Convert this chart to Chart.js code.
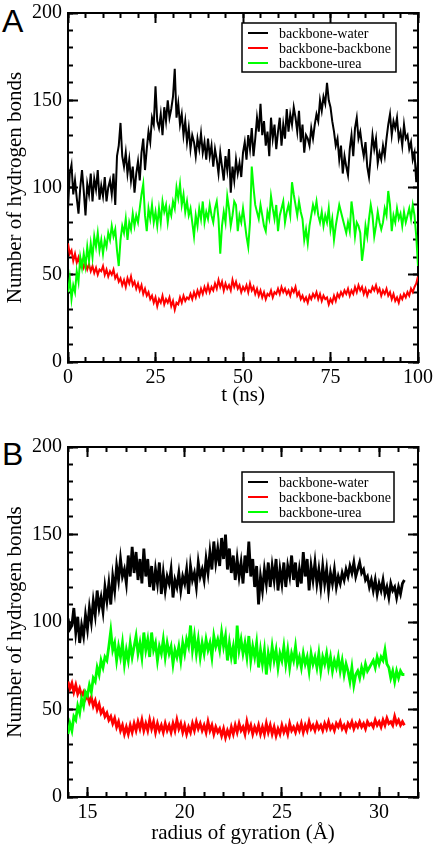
<!DOCTYPE html>
<html lang="en">
<head>
<meta charset="UTF-8">
<title>Hydrogen bonds</title>
<script src="https://cdn.jsdelivr.net/npm/chart.js"></script>
<style>
  body { margin: 0; background: #fff; width: 435px; height: 846px; position: relative; overflow: hidden; }
  canvas { position: absolute; left: 0; }
  #chartA { top: 0; }
  #chartB { top: 420px; }
  /* panel letters */
  .panel { position: absolute; left: 2px; font-family: "Liberation Sans", Arial, sans-serif; font-size: 32px; line-height: 1; }
</style>
</head>
<body>
<div class="panel" style="top:5px">A</div>
<div class="panel" style="top:438px">B</div>
<canvas id="chartA" width="435" height="420"></canvas>
<canvas id="chartB" width="435" height="426"></canvas>

<script>
// ---- data: panel A, sampled every 0.5 ns from 0 to 100 ns ----
const tStart = 0, tStep = 0.5;
const waterA = [
  88, 108, 113, 96, 104, 94, 85, 100, 110, 98,
  84, 102, 96, 108, 92, 105, 99, 110, 93, 101,
  95, 106, 92, 100, 104, 96, 108, 90, 118, 124,
  137, 118, 112, 120, 108, 116, 104, 112, 97, 108,
  115, 104, 120, 128, 110, 122, 132, 126, 140, 136,
  158, 138, 134, 142, 130, 146, 138, 150, 140, 145,
  152, 168, 140, 148, 136, 142, 130, 138, 126, 134,
  122, 130, 126, 118, 128, 122, 131, 120, 126, 116,
  128, 118, 124, 112, 122, 116, 108, 120, 112, 104,
  118, 110, 122, 97, 112, 104, 116, 108, 114, 106,
  120, 126, 116, 130, 122, 134, 118, 128, 140, 132,
  148, 130, 138, 124, 132, 118, 140, 128, 136, 122,
  132, 140, 124, 136, 128, 145, 132, 142, 136, 146,
  140, 132, 144, 126, 136, 120, 130, 128, 124, 134,
  128, 136, 142, 138, 150, 144, 152, 148, 160, 150,
  146, 138, 132, 124, 128, 116, 124, 108, 118, 112,
  107, 122, 130, 118, 134, 140, 128, 132, 124, 118,
  126, 112, 106, 118, 130, 122, 128, 114, 120, 116,
  124, 118, 128, 136, 142, 130, 138, 134, 140, 128,
  132, 124, 136, 128, 130, 122, 126, 116, 120, 103,
  115
];
const backboneA = [
  68, 62, 64, 58, 62, 57, 60, 55, 58, 54,
  57, 53, 56, 52, 55, 51, 54, 50, 53, 52,
  55, 50, 53, 49, 52, 50, 53, 48, 50, 46,
  48, 44, 47, 43, 48, 45, 49, 44, 46, 42,
  45, 41, 44, 39, 42, 38, 40, 36, 38, 34,
  37, 32, 36, 34, 38, 33, 36, 34, 37, 32,
  35, 30, 34, 33, 37, 34, 38, 35, 37, 36,
  39, 36, 40, 37, 41, 38, 42, 39, 43, 40,
  44, 40, 43, 41, 45, 42, 47, 43, 46, 41,
  45, 42, 44, 41, 47, 43, 46, 42, 44, 40,
  43, 41, 44, 40, 45, 41, 43, 39, 42, 38,
  41, 37, 40, 36, 39, 38, 41, 37, 40, 39,
  42, 39, 43, 40, 42, 39, 41, 38, 42, 40,
  43, 38, 40, 36, 38, 35, 37, 34, 38, 36,
  39, 37, 40, 36, 39, 35, 38, 36, 37, 33,
  36, 34, 38, 35, 39, 37, 40, 38, 41, 39,
  42, 38, 41, 39, 43, 40, 44, 41, 43, 39,
  42, 38, 41, 40, 43, 41, 44, 40, 42, 38,
  41, 39, 42, 38, 40, 36, 39, 35, 37, 34,
  38, 36, 39, 37, 40, 38, 42, 40, 43, 45,
  49
];
const ureaA = [
  40, 48, 36, 44, 40, 52, 46, 60, 54, 62,
  55, 66, 58, 68, 60, 72, 66, 74, 64, 70,
  62, 70, 66, 74, 70, 78, 72, 76, 64, 55,
  70, 78, 74, 82, 70, 80, 76, 85, 78, 84,
  80, 88, 96, 102, 84, 75, 88, 82, 90, 80,
  86, 78, 88, 80, 92, 86, 90, 80, 88, 84,
  92, 88, 100, 94, 102, 90, 96, 86, 92, 84,
  88, 80, 72, 84, 78, 88, 82, 92, 80, 86,
  82, 90, 84, 80, 88, 92, 82, 62, 78, 86,
  80, 95, 88, 78, 84, 92, 90, 75, 84, 80,
  88, 80, 72, 66, 80, 112, 100, 90, 86, 82,
  90, 84, 78, 75, 86, 82, 95, 88, 82, 90,
  75, 84, 88, 92, 80, 86, 90, 84, 103, 96,
  90, 84, 92, 86, 82, 70, 76, 68, 78, 84,
  90, 86, 92, 84, 80, 86, 78, 84, 80, 88,
  76, 82, 70, 78, 84, 90, 86, 82, 78, 74,
  80, 75, 92, 84, 72, 80, 78, 74, 58, 66,
  78, 72, 82, 90, 84, 72, 78, 86, 80, 76,
  80, 88, 84, 98, 90, 75, 84, 80, 88, 82,
  85, 78, 86, 80, 84, 88, 82, 90, 84, 72,
  55
];

// ---- data: panel B, binned every 0.1 A of radius of gyration from 14.0 A ----
const rgStart = 14.0, rgStep = 0.1;
const waterB = [
  102, 96, 98, 108, 94, 103, 88, 98, 92, 104,
  96, 108, 100, 112, 104, 118, 108, 114, 106, 120,
  112, 122, 110, 126, 118, 132, 124, 136, 126, 130,
  122, 138, 126, 143, 128, 140, 124, 136, 122, 142,
  126, 136, 120, 132, 118, 130, 122, 134, 116, 128,
  118, 126, 122, 130, 114, 124, 120, 128, 118, 126,
  122, 130, 116, 132, 124, 128, 120, 134, 126, 130,
  124, 136, 128, 140, 130, 146, 134, 142, 132, 148,
  136, 150, 130, 142, 128, 138, 124, 136, 126, 134,
  122, 138, 128, 146, 126, 136, 120, 132, 110, 126,
  118, 130, 122, 134, 120, 132, 124, 136, 118, 130,
  122, 134, 120, 132, 126, 138, 124, 134, 120, 130,
  122, 140, 126, 136, 118, 132, 124, 134, 122, 130,
  120, 132, 122, 130, 118, 128, 122, 130, 120, 126,
  122, 128, 124, 130, 126, 132, 128, 134, 126, 130,
  134, 128, 130, 124, 126, 120, 124, 118, 124, 116,
  122, 118, 124, 116, 120, 114, 122, 118, 120, 114,
  120, 116, 122, 124
];
const backboneB = [
  66, 62, 65, 60, 64, 59, 62, 58, 60, 56,
  58, 54, 57, 52, 55, 50, 53, 48, 50, 46,
  48, 44, 46, 42, 45, 40, 43, 38, 41, 36,
  40, 36, 41, 37, 42, 38, 43, 39, 44, 38,
  42, 38, 44, 39, 43, 37, 42, 38, 41, 37,
  42, 38, 41, 37, 42, 38, 44, 39, 42, 37,
  41, 36, 40, 37, 42, 38, 43, 39, 42, 38,
  41, 37, 43, 38, 41, 36, 40, 37, 39, 35,
  39, 34, 38, 35, 40, 36, 41, 37, 42, 38,
  40, 36, 43, 38, 41, 36, 40, 37, 41, 36,
  40, 36, 42, 37, 41, 36, 40, 35, 39, 36,
  41, 37, 40, 36, 42, 38, 40, 37, 41, 38,
  42, 37, 41, 38, 43, 39, 41, 38, 42, 39,
  41, 38, 42, 39, 43, 39, 41, 38, 42, 40,
  43, 39, 41, 38, 42, 40, 43, 39, 42, 40,
  43, 40, 42, 39, 43, 41, 42, 40, 44, 41,
  43, 40, 44, 41, 45, 42, 43, 41, 46, 42,
  44, 41, 43, 41
];
const ureaB = [
  36, 42, 38, 46, 44, 52, 48, 56, 52, 60,
  58, 64, 60, 68, 66, 74, 70, 78, 74, 80,
  78, 86, 95, 84, 88, 78, 86, 80, 88, 76,
  84, 78, 88, 80, 86, 92, 82, 88, 80, 94,
  84, 90, 80, 94, 84, 88, 78, 86, 82, 90,
  80, 88, 82, 86, 76, 84, 80, 86, 78, 88,
  82, 90, 86, 98, 84, 92, 82, 90, 80, 88,
  82, 90, 84, 88, 80, 92, 86, 90, 84, 94,
  86, 92, 78, 88, 80, 86, 76, 98, 84, 90,
  82, 88, 80, 92, 78, 86, 80, 88, 74, 84,
  76, 84, 70, 82, 76, 86, 78, 84, 74, 82,
  78, 86, 76, 84, 74, 82, 78, 86, 76, 80,
  74, 82, 76, 80, 72, 82, 76, 80, 74, 82,
  72, 80, 76, 82, 74, 80, 72, 78, 74, 80,
  72, 78, 70, 76, 72, 66, 74, 64, 70, 72,
  68, 74, 70, 76, 72, 74, 76, 78, 74, 80,
  76, 80, 78, 84, 76, 74, 68, 72, 66, 72,
  68, 72, 70, 70
];

const seriesLabels = ['backbone-water', 'backbone-backbone', 'backbone-urea'];
const seriesColors = ['#000000', '#ff0000', '#00ff00'];
const xTicksA = [0, 25, 50, 75, 100];
const xTicksB = [15, 20, 25, 30];
const yTicks = [0, 50, 100, 150, 200];

const serif = '"Liberation Serif", "Times New Roman", serif';

// turn a list of values on a regular grid into {x, y} points
function toPoints(values, start, step) {
  return values.map((v, i) => ({ x: +(start + i * step).toFixed(3), y: v }));
}

function makeDatasets(lists, start, step, width) {
  return lists.map((vals, i) => ({
    label: seriesLabels[i],
    data: toPoints(vals, start, step),
    borderColor: seriesColors[i],
    borderWidth: width,
    pointRadius: 0,
    tension: 0,
    order: 2 - i   // green on top, black at the bottom
  }));
}

// minor tick positions for an axis
function steps(min, max, step) {
  const out = [];
  for (let v = min; v <= max + 1e-6; v += step) out.push({ value: +v.toFixed(3) });
  return out;
}

// boxed legend inside the plot
const legendBox = {
  id: 'legendBox',
  afterDraw(chart, args, opts) {
    const ctx = chart.ctx;
    ctx.save();
    ctx.fillStyle = '#fff';
    ctx.fillRect(opts.x, opts.y, opts.w, opts.h);
    ctx.strokeStyle = '#000';
    ctx.lineWidth = 1.5;
    ctx.strokeRect(opts.x, opts.y, opts.w, opts.h);
    ctx.font = '14px ' + serif;
    ctx.textBaseline = 'middle';
    chart.data.datasets.forEach((ds, i) => {
      const ly = opts.y + 10 + i * 15;
      ctx.strokeStyle = ds.borderColor;
      ctx.lineWidth = 2;
      ctx.beginPath();
      ctx.moveTo(opts.x + 6, ly);
      ctx.lineTo(opts.x + 26, ly);
      ctx.stroke();
      ctx.fillStyle = '#000';
      ctx.fillText(ds.label, opts.x + 37, ly + 1);
    });
    ctx.restore();
  }
};

// one axis line with inward tick marks (negative tick length points into the plot)
function edgeAxis(axis, position, weight, min, max, tickList, len, size) {
  const horizontal = axis === 'x';
  return {
    type: 'linear', axis, position, weight, min, max,
    grid: { drawOnChartArea: false, drawTicks: true, tickLength: -len, tickWidth: 2, tickColor: '#000' },
    border: { display: true, width: 2, color: '#000' },
    ticks: { display: false },
    afterBuildTicks: s => { s.ticks = tickList.slice(); },
    afterFit: s => {
      if (horizontal) s.height = size; else s.width = size;
      // keep overhanging tick labels from shrinking the plot area
      s.paddingLeft = s.paddingRight = s.paddingTop = s.paddingBottom = 0;
    }
  };
}

function makeOptions(p) {
  const tickFont = { family: serif, size: 20 };
  const titleFont = { family: serif, size: 21 };
  const xMajor = p.xTicks.map(v => ({ value: v }));
  const xMinor = steps(p.xMin, p.xMax, p.xMinor);
  const yMajor = yTicks.map(v => ({ value: v }));
  const yMinor = steps(0, 200, 10);

  const x = edgeAxis('x', 'bottom', 1, p.xMin, p.xMax, xMajor, 10, p.xAxisHeight);
  x.ticks = { display: true, padding: 14, color: '#000', font: tickFont, maxRotation: 0, autoSkip: false };
  x.title = { display: true, text: p.xTitle, color: '#000', font: titleFont, padding: { top: 0, bottom: p.xTitlePad } };

  const y = edgeAxis('y', 'left', 1, 0, 200, yMajor, 10, 68);
  y.ticks = { display: true, padding: 16, color: '#000', font: tickFont };
  y.title = { display: true, text: 'Number of hydrogen bonds', color: '#000', font: titleFont, padding: { top: 3, bottom: 0 } };

  return {
    responsive: false,
    animation: false,
    layout: { autoPadding: false, padding: { top: p.padTop, right: 17, left: 0, bottom: 0 } },
    plugins: {
      legend: { display: false },
      tooltip: { enabled: false },
      legendBox: p.legend
    },
    scales: {
      x,
      xMinor: edgeAxis('x', 'bottom', 0, p.xMin, p.xMax, xMinor, 5, 0),
      xTop: edgeAxis('x', 'top', 1, p.xMin, p.xMax, xMajor, 10, 0),
      xTopMinor: edgeAxis('x', 'top', 0, p.xMin, p.xMax, xMinor, 5, 0),
      y,
      yMinor: edgeAxis('y', 'left', 0, 0, 200, yMinor, 5, 0),
      yRight: edgeAxis('y', 'right', 1, 0, 200, yMajor, 10, 0),
      yRightMinor: edgeAxis('y', 'right', 0, 0, 200, yMinor, 5, 0)
    }
  };
}

new Chart(document.getElementById('chartA'), {
  type: 'line',
  data: { datasets: makeDatasets([waterA, backboneA, ureaA], tStart, tStep, 2) },
  options: makeOptions({
    padTop: 13, xMin: 0, xMax: 100, xMinor: 5, xTicks: xTicksA,
    xAxisHeight: 58, xTitle: 't (ns)', xTitlePad: 12,
    legend: { x: 242, y: 23, w: 154, h: 49 }
  }),
  plugins: [legendBox]
});

new Chart(document.getElementById('chartB'), {
  type: 'line',
  data: { datasets: makeDatasets([waterB, backboneB, ureaB], rgStart, rgStep, 2.8) },
  options: makeOptions({
    padTop: 27, xMin: 14, xMax: 32, xMinor: 1, xTicks: xTicksB,
    xAxisHeight: 49, xTitle: 'radius of gyration (\u00C5)', xTitlePad: 0,
    legend: { x: 242, y: 52, w: 152, h: 50 }
  }),
  plugins: [legendBox]
});
</script>
</body>
</html>
